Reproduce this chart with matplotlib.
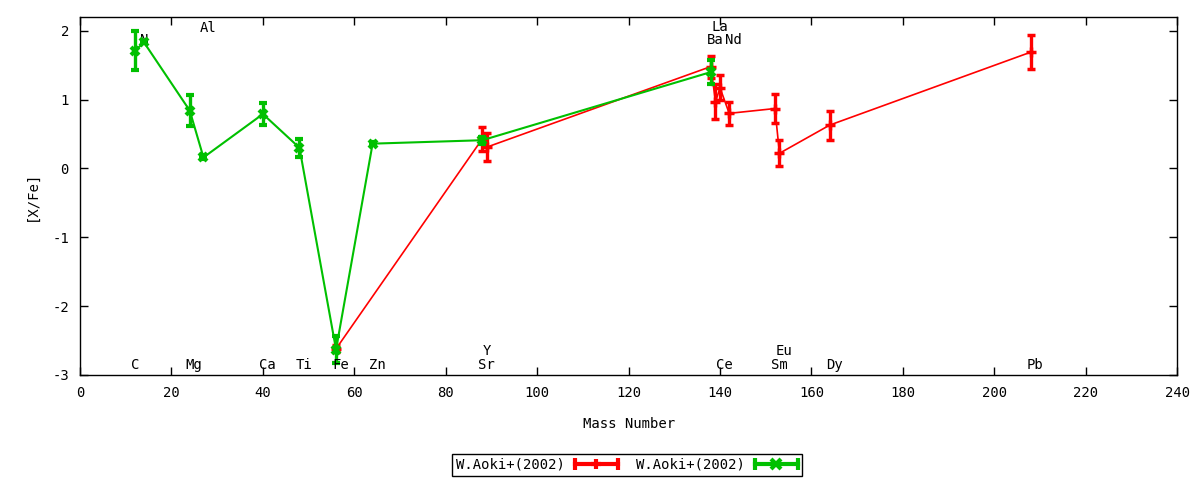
import matplotlib
matplotlib.use("Agg")
import matplotlib.pyplot as plt
from matplotlib.lines import Line2D
from matplotlib.legend_handler import HandlerBase

plt.rcParams["font.family"] = ["DejaVu Sans Mono", "DejaVu Sans"]
plt.rcParams["font.size"] = 10
plt.rcParams["axes.unicode_minus"] = False

# red series: W.Aoki+(2002)
red_mass = [56, 88, 89, 138, 139, 140, 142, 152, 153, 164, 208]
red_val = [-2.62, 0.43, 0.31, 1.48, 0.97, 1.17, 0.80, 0.87, 0.22, 0.63, 1.69]
red_err = [0.05, 0.17, 0.20, 0.16, 0.25, 0.18, 0.17, 0.21, 0.19, 0.21, 0.25]

# green series: W.Aoki+(2002)
green_mass = [12, 14, 24, 27, 40, 48, 56, 64, 88, 138]
green_val = [1.71, 1.83, 0.84, 0.16, 0.79, 0.30, -2.63, 0.36, 0.41, 1.40]
green_err = [0.28, 0.0, 0.22, 0.03, 0.16, 0.13, 0.20, 0.02, 0.05, 0.17]

# element labels
elem_names = ["C", "N", "Mg", "Al", "Ca", "Ti", "Fe", "Zn", "Sr", "Y",
              "Ba", "La", "Ce", "Nd", "Sm", "Eu", "Dy", "Pb"]
elem_mass = [12, 14, 24, 27, 40, 48, 56, 64, 88, 89,
             138, 139, 140, 142, 152, 153, 164, 208]
elem_y = [-2.85, 1.87, -2.85, 2.04, -2.85, -2.85, -2.85, -2.85, -2.85, -2.65,
          1.86, 2.06, -2.85, 1.86, -2.85, -2.65, -2.85, -2.85]

RED = "#ff0000"
GREEN = "#00c000"


class KeySample:
    def __init__(self, color, marker):
        self.color = color
        self.marker = marker


class KeyHandler(HandlerBase):
    def create_artists(self, legend, orig, xdescent, ydescent, width, height, fontsize, trans):
        y = height / 2 - ydescent
        x0, x1 = -xdescent, width - xdescent
        line = Line2D([x0, x1], [y, y], color=orig.color, lw=3, transform=trans)
        caps = Line2D([x0, x1], [y, y], ls="none", marker="|", ms=8, mew=3,
                      color=orig.color, transform=trans)
        mid = Line2D([(x0 + x1) / 2], [y], ls="none", marker=orig.marker, ms=7, mew=3,
                     color=orig.color, transform=trans)
        return [line, caps, mid]


fig = plt.figure(figsize=(12, 4.8), dpi=100)
ax = fig.add_axes([0.0667, 0.21875, 0.9143, 0.7459])

ax.errorbar(red_mass, red_val, yerr=red_err, color=RED, lw=1.2, marker="+", ms=7, mew=2.5,
            elinewidth=2.4, capsize=3, capthick=2.4, zorder=2)
ax.errorbar(green_mass, green_val, yerr=green_err, color=GREEN, lw=1.5, marker="x", ms=6, mew=3,
            elinewidth=2.4, capsize=3, capthick=2.4, zorder=3)

for name, m, yv in zip(elem_names, elem_mass, elem_y):
    ax.text(m - 0.9, yv, name, ha="left", va="center", fontsize=10)

ax.set_xlim(0, 240)
ax.set_ylim(-3, 2.2)
ax.set_xticks(range(0, 241, 20))
ax.set_yticks([-3, -2, -1, 0, 1, 2])
ax.tick_params(direction="in", length=6, width=1, top=True, right=True, pad=8, labelsize=10)
for s in ax.spines.values():
    s.set_linewidth(1)

ax.set_xlabel("Mass Number", labelpad=12)
ax.set_ylabel("[X/Fe]", labelpad=10)

handles = [KeySample(RED, "+"), KeySample(GREEN, "x")]
leg = fig.legend(handles, ["W.Aoki+(2002)", "W.Aoki+(2002)"], handler_map={KeySample: KeyHandler()},
                 loc="center", bbox_to_anchor=(0.5225, 0.03125), ncol=2, markerfirst=False,
                 frameon=True, fancybox=False, edgecolor="black", framealpha=1,
                 handlelength=3.1, handletextpad=0.7, columnspacing=1.3, borderpad=0.3)
leg.get_frame().set_linewidth(1)

fig.savefig("out.png", dpi=100)
